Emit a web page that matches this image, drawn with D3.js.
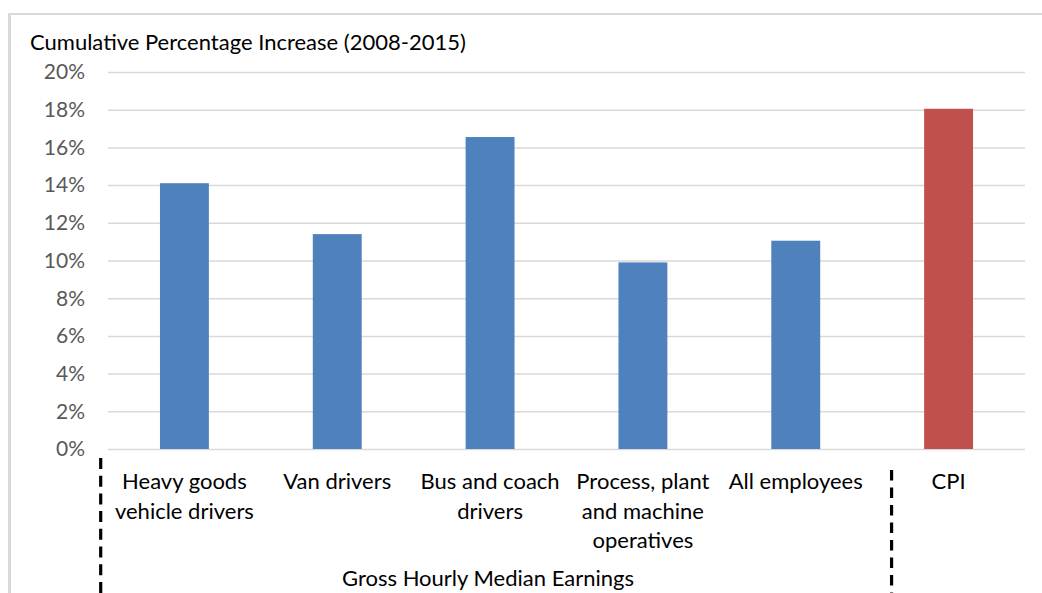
<meta charset="utf-8" />
<script src="https://d3js.org/d3.v7.min.js"></script>
<style>
  body { margin: 0; background: #fff; }
  svg text { font-family: "Lato", "Open Sans", sans-serif; }
  .grid line { stroke: #d9d9d9; stroke-width: 1.5; }
  .grid path { display: none; }
  .ytick text { fill: #595959; font-size: 21px; }
  .xlab text { fill: #000; font-size: 22px; }
</style>
<svg width="1042" height="593"></svg>
<script>
  // chart data
  var categories = [
    "Heavy goods vehicle drivers",
    "Van drivers",
    "Bus and coach drivers",
    "Process, plant and machine operatives",
    "All employees",
    "CPI",
  ];
  var labelLines = [
    ["Heavy goods", "vehicle drivers"],
    ["Van drivers"],
    ["Bus and coach", "drivers"],
    ["Process, plant", "and machine", "operatives"],
    ["All employees"],
    ["CPI"],
  ];
  var values = [14.1, 11.4, 16.55, 9.9, 11.05, 18.05];
  var barColors = ["#4f81bd", "#4f81bd", "#4f81bd", "#4f81bd", "#4f81bd", "#c0504d"];
  var yTicks = [0, 2, 4, 6, 8, 10, 12, 14, 16, 18, 20];
  var chartTitle = "Cumulative Percentage Increase (2008-2015)";
  var groupTitle = "Gross Hourly Median Earnings";

  var svg = d3.select("svg");
  var plotLeft = 108, plotRight = 1025, plotTop = 72, plotBottom = 449;

  // outer frame (left and top edges only are visible)
  svg.append("line").attr("x1", 9.5).attr("x2", 9.5).attr("y1", 13).attr("y2", 593)
    .attr("stroke", "#d9d9d9").attr("stroke-width", 3);
  svg.append("line").attr("x1", 8).attr("x2", 1042).attr("y1", 14).attr("y2", 14)
    .attr("stroke", "#d9d9d9").attr("stroke-width", 2);

  var x = d3.scaleBand().domain(categories).range([plotLeft, plotRight])
    .paddingInner(0.68).paddingOuter(0.34);
  var y = d3.scaleLinear().domain([0, 20]).range([plotBottom, plotTop]);

  svg.append("text").attr("x", 30).attr("y", 50)
    .style("font-size", "22px").style("fill", "#000")
    .text(chartTitle);

  // gridlines
  svg.append("g").attr("class", "grid")
    .attr("transform", "translate(" + plotLeft + ",0)")
    .call(d3.axisRight(y).tickValues(yTicks).tickSize(plotRight - plotLeft).tickFormat(""));

  // y tick labels
  svg.append("g").attr("class", "ytick")
    .selectAll("text").data(yTicks).enter().append("text")
    .attr("x", 85).attr("y", function (d) { return y(d); })
    .attr("dy", "0.35em").attr("text-anchor", "end")
    .text(function (d) { return d + "%"; });

  // bars
  svg.selectAll(".bar").data(values).enter().append("rect")
    .attr("class", "bar")
    .attr("x", function (d, i) { return x(categories[i]); })
    .attr("y", function (d) { return y(d); })
    .attr("width", x.bandwidth())
    .attr("height", function (d) { return y(0) - y(d); })
    .attr("fill", function (d, i) { return barColors[i]; });

  // category labels
  var lab = svg.append("g").attr("class", "xlab")
    .selectAll("text").data(categories).enter().append("text")
    .attr("text-anchor", "middle")
    .attr("x", function (d) { return x(d) + x.bandwidth() / 2; })
    .attr("y", 489);
  lab.selectAll("tspan").data(function (d, i) { return labelLines[i]; })
    .enter().append("tspan")
    .attr("x", function () { var c = d3.select(this.parentNode).datum(); return x(c) + x.bandwidth() / 2; })
    .attr("dy", function (d, i) { return i === 0 ? 0 : 29.5; })
    .text(function (d) { return d; });

  // group separators
  var step = x.step();
  var sepLeft = plotLeft - 7.3;
  var sepRight = x("CPI") + x.bandwidth() / 2 - step * 0.373;
  svg.append("line").attr("x1", sepLeft).attr("x2", sepLeft).attr("y1", 458).attr("y2", 593)
    .attr("stroke", "#000").attr("stroke-width", 3.2).attr("stroke-dasharray", "11,6.7");
  svg.append("line").attr("x1", sepRight).attr("x2", sepRight).attr("y1", 470).attr("y2", 593)
    .attr("stroke", "#000").attr("stroke-width", 3.2).attr("stroke-dasharray", "10.5,7");

  svg.append("text").attr("x", 488).attr("y", 586).attr("text-anchor", "middle")
    .style("font-size", "22px").style("fill", "#000")
    .text(groupTitle);
</script>
